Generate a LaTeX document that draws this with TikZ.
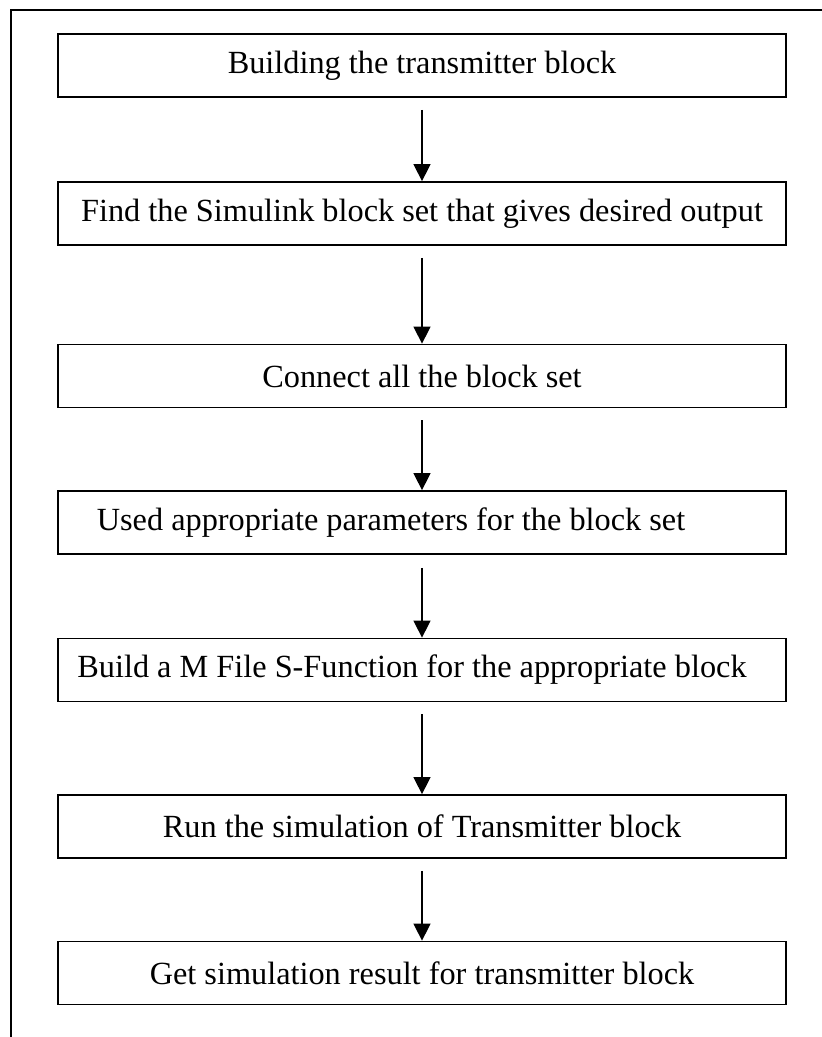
\documentclass[tikz,border=0pt]{standalone}
\usepackage{fontspec}
\setmainfont{Liberation Serif}
\usetikzlibrary{arrows.meta}
\begin{document}
\begin{tikzpicture}[x=1pt,y=-1pt,
  stepbox/.style={draw=black, line width=1.8pt, minimum width=728pt, minimum height=63pt,
    inner sep=0pt, font=\fontsize{32.3}{36}\selectfont},
  arr/.style={line width=1.5pt, -{Triangle[width=17pt,length=17pt]}},
  frameline/.style={line width=2pt}]
\useasboundingbox (0,0) rectangle (822,1037);
\coordinate (fbl) at (11,1037);
\coordinate (ftl) at (11,10);
\coordinate (ftr) at (822,10);
\draw[frameline] (fbl) -- (ftl) -- (ftr);
\node[stepbox] (b1) at (422,65.5) {\raisebox{-2pt}{Building the transmitter block}};
\node[stepbox] (b2) at (422,213.5) {\raisebox{-2pt}{Find the Simulink block set that gives desired output}};
\node[stepbox] (b3) at (422,376) {\raisebox{-2pt}{Connect all the block set}};
\node[stepbox] (b4) at (422,522.5) {\makebox[0pt]{\hspace*{-62pt}\raisebox{-2pt}{Used appropriate parameters for the block set}}};
\node[stepbox] (b5) at (422,670) {\makebox[0pt]{\hspace*{-20pt}\raisebox{-2pt}{Build a M File S-Function for the appropriate block}}};
\node[stepbox] (b6) at (422,826.5) {\raisebox{-2pt}{Run the simulation of Transmitter block}};
\node[stepbox] (b7) at (422,973) {\raisebox{-2pt}{Get simulation result for transmitter block}};
\draw[arr] ([yshift=-12pt]b1.south) -- (b2.north);
\draw[arr] ([yshift=-12pt]b2.south) -- (b3.north);
\draw[arr] ([yshift=-12pt]b3.south) -- (b4.north);
\draw[arr] ([yshift=-13pt]b4.south) -- (b5.north);
\draw[arr] ([yshift=-12pt]b5.south) -- (b6.north);
\draw[arr] ([yshift=-12pt]b6.south) -- (b7.north);
\end{tikzpicture}
\end{document}
